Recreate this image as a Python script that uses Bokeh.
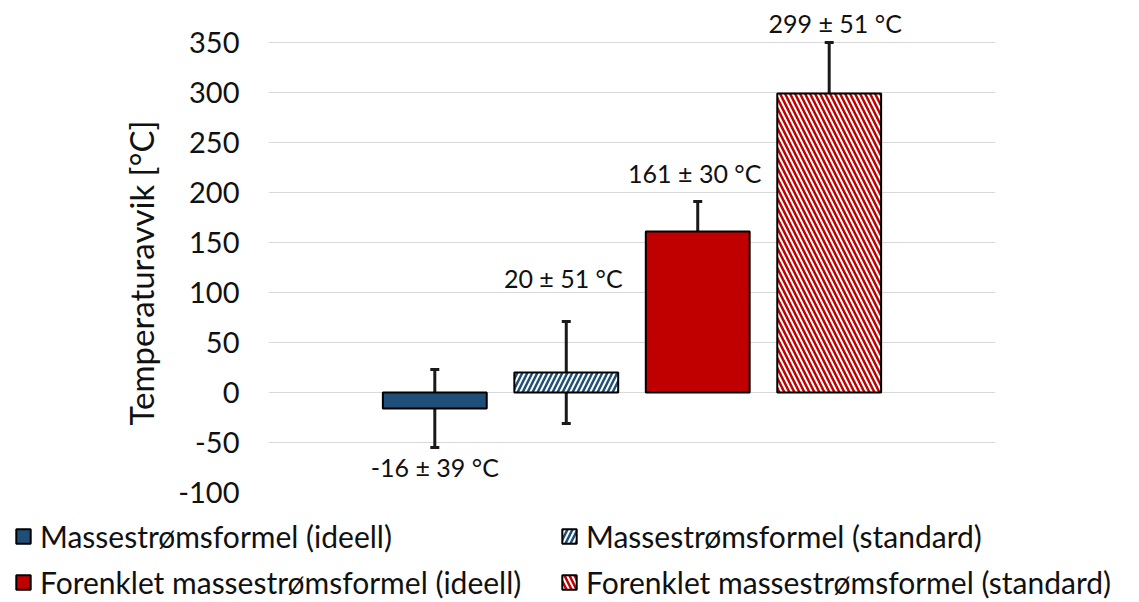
from bokeh.plotting import figure
from bokeh.layouts import column
from bokeh.models import (ColumnDataSource, Range1d, Whisker, TeeHead, Legend, LegendItem,
                          FixedTicker, Title, PrintfTickFormatter)
from bokeh.core.properties import value
from bokeh.embed import file_html
from bokeh.resources import INLINE

series = ["Massestrømsformel (ideell)", "Massestrømsformel (standard)",
          "Forenklet massestrømsformel (ideell)", "Forenklet massestrømsformel (standard)"]
means = [-16, 20, 161, 299]
errors = [39, 51, 30, 51]
y_ticks = [-100, -50, 0, 50, 100, 150, 200, 250, 300, 350]

fills = ["#1F4E79", "white", "#C00000", "white"]
hatches = [" ", "/", " ", "\\"]
hatch_cols = ["#1F4E79", "#1F4E79", "#C00000", "#C00000"]
lab_dx = [0, -3, -3, 6]
lab_dy = [19, -44, -29, -20]
FONT = "Lato"
TXT = "#111111"

idx = list(range(len(means)))
lower = [m - e for m, e in zip(means, errors)]
upper = [m + e for m, e in zip(means, errors)]
labels = [f"{m} ± {e} °C" for m, e in zip(means, errors)]
anchor = [lo if m < 0 else up for m, lo, up in zip(means, lower, upper)]

src = ColumnDataSource(dict(x=idx, top=means, lower=lower, upper=upper,
                            label=labels, ly=anchor, dx=lab_dx, dy=lab_dy))

p = figure(width=1139, height=510, output_backend="svg", toolbar_location=None,
           x_range=Range1d(-1.265, 4.265), y_range=Range1d(-100, 380),
           min_border_left=268, min_border_right=144, min_border_top=12, min_border_bottom=18)
p.frame_align = False
p.outline_line_color = None
p.xaxis.visible = False
p.xgrid.visible = False
p.ygrid.grid_line_color = "#D9D9D9"
p.ygrid.grid_line_width = 1
p.yaxis.ticker = FixedTicker(ticks=y_ticks)
p.yaxis.formatter = PrintfTickFormatter(format="%d")
p.yaxis.axis_line_color = None
p.yaxis.major_tick_line_color = None
p.yaxis.minor_tick_line_color = None
p.yaxis.major_label_text_font = FONT
p.yaxis.major_label_text_font_size = "29px"
p.yaxis.major_label_text_color = TXT
p.yaxis.major_label_standoff = 23

ytitle = Title(text="Temperaturavvik [°C]", align="left", offset=67, standoff=30,
               text_font=FONT, text_font_size="33px", text_font_style="normal",
               text_color=TXT)
p.add_layout(ytitle, "left")

style = [dict(fill_color=fills[i], line_color="black", line_width=2,
              hatch_pattern=hatches[i], hatch_color=hatch_cols[i],
              hatch_scale=10, hatch_weight=2.5) for i in idx]

for i in idx:
    p.vbar(x=[idx[i]], top=[means[i]], bottom=0, width=0.79, **style[i])

head = dict(size=9, line_width=3, line_color="#1a1a1a")
w = Whisker(base="x", lower="lower", upper="upper", source=src, line_width=3,
            line_color="#1a1a1a", upper_head=TeeHead(**head), lower_head=TeeHead(**head))
p.add_layout(w)

p.text(x="x", y="ly", text="label", source=src, x_offset="dx", y_offset="dy",
       text_align="center", text_baseline="middle", text_font=value(FONT),
       text_font_size="25px", text_color=TXT)

# legend strip below the chart; its swatch renderers are hidden, only the legend shows them
lp = figure(width=1139, height=92, output_backend="svg", toolbar_location=None,
            x_range=Range1d(0, 1), y_range=Range1d(0, 1), min_border=0,
            min_border_left=0, min_border_right=0, min_border_top=0, min_border_bottom=0)
lp.frame_align = False
lp.xaxis.visible = False
lp.yaxis.visible = False
lp.grid.visible = False
lp.outline_line_color = None
swatches = []
for i in idx:
    r = lp.vbar(x=[0.5], top=[1], width=0.5, **style[i])
    r.visible = False
    swatches.append(r)

def make_legend(ids, loc):
    lg = Legend(items=[LegendItem(label=series[i], renderers=[swatches[i]]) for i in ids],
                location=loc, orientation="vertical",
                glyph_width=18, glyph_height=18, label_standoff=8, label_height=36,
                label_text_font=FONT, label_text_font_size="30px",
                label_text_color=TXT, padding=0, margin=0, spacing=10,
                inactive_fill_alpha=0,
                border_line_color=None, background_fill_alpha=0)
    lp.add_layout(lg, "center")

make_legend([0, 2], (14, 2))
make_legend([1, 3], (560, 2))

open("out.html", "w").write(file_html(column(p, lp, spacing=0), INLINE))
